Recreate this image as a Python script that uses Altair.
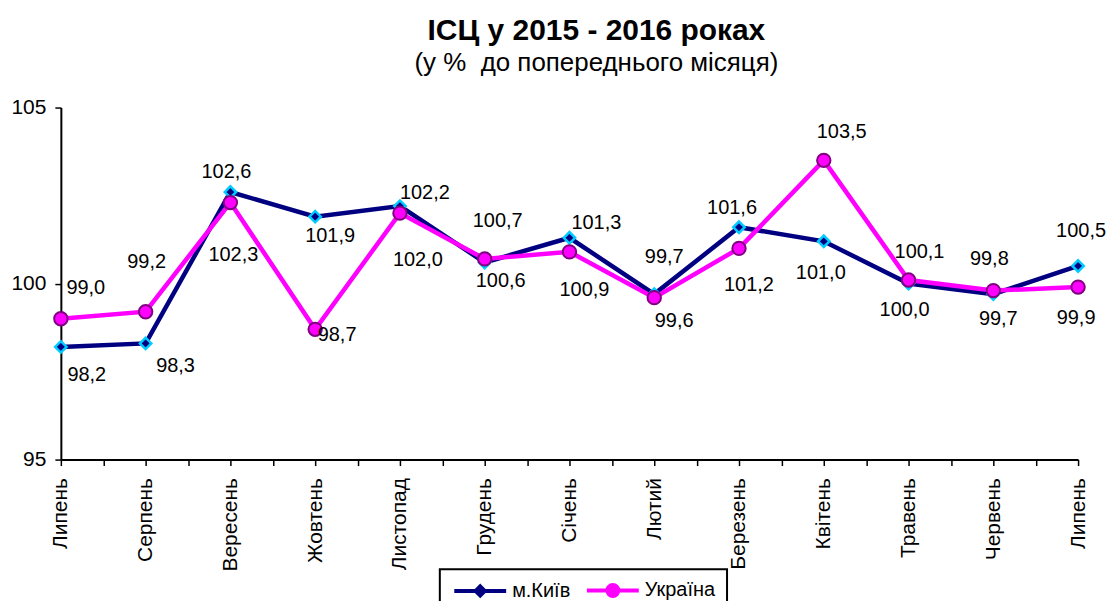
import altair as alt
import pandas as pd

months = ["Липень", "Серпень", "Вересень", "Жовтень", "Листопад", "Грудень",
          "Січень", "Лютий", "Березень", "Квітень", "Травень", "Червень", "Липень"]
kyiv = [98.2, 98.3, 102.6, 101.9, 102.2, 100.6, 101.3, 99.7, 101.6, 101.2, 100.0, 99.7, 100.5]
ukraine = [99.0, 99.2, 102.3, 98.7, 102.0, 100.7, 100.9, 99.6, 101.0, 103.5, 100.1, 99.8, 99.9]
kyiv_labels = ["98,2", "98,3", "102,6", "101,9", "102,2", "100,6", "101,3", "99,7",
               "101,6", "101,0", "100,0", "99,7", "100,5"]
ukraine_labels = ["99,0", "99,2", "102,3", "98,7", "102,0", "100,7", "100,9", "99,6",
                  "101,2", "103,5", "100,1", "99,8", "99,9"]
series_names = ["м.Київ", "Україна"]

# label nudges in pixels (style only), relative to each point
kyiv_dx = [26, 30, -4, 15, 25, 16, 27, 10, -7, -3, -4, 5, 3]
kyiv_dy = [28, 23, -20, 19, -13, 19, -15, -37, -19, 32, 27, 25, -35]
ukr_dx = [25, 1, 3, 22, 18, 13, 15, 20, 10, 18, 11, -4, -2]
ukr_dy = [-31, -50, 53, 6, 47, -38, 38, 23, 37, -28, -28, -32, 31]

W, H = 1020, 353
STEP_PX = W / 12
UNIT_PX = H / 10

rows = []
for i in range(len(months)):
    rows.append(dict(i=i, series=series_names[0], value=kyiv[i], label=kyiv_labels[i],
                     lx=i + kyiv_dx[i] / STEP_PX, ly=kyiv[i] - kyiv_dy[i] / UNIT_PX))
    rows.append(dict(i=i, series=series_names[1], value=ukraine[i], label=ukraine_labels[i],
                     lx=i + ukr_dx[i] / STEP_PX, ly=ukraine[i] - ukr_dy[i] / UNIT_PX))
df = pd.DataFrame(rows)

months_js = "[" + ",".join("'" + m + "'" for m in months) + "]"

xscale = alt.Scale(domain=[0, 12], nice=False, zero=False)
yscale = alt.Scale(domain=[95, 105], nice=False, zero=False)

xaxis = alt.Axis(
    values=[k / 2 for k in range(25)],
    labelExpr=f"datum.value % 1 == 0 ? {months_js}[datum.value] : ''",
    title=None, grid=False, labelAngle=270, labelFontSize=21, labelColor="black",
    labelPadding=12, tickSize=6, tickColor="black", tickWidth=1.5,
    domainColor="black", domainWidth=2, labelOverlap=False, labelFlush=False,
    labelBound=False,
)
yaxis = alt.Axis(
    values=[95, 100, 105], title=None, grid=False, labelFontSize=21, labelColor="black",
    labelPadding=9, tickSize=6, tickColor="black", tickWidth=1.5,
    domainColor="black", domainWidth=2,
)

base = alt.Chart(df)
X = alt.X("i:Q", scale=xscale, axis=xaxis)
Y = alt.Y("value:Q", scale=yscale, axis=yaxis)

NAVY = "#000080"
CYAN = "#00CCFF"
MAGENTA = "#FF00FF"
PURPLE = "#800080"

k = base.transform_filter(alt.datum.series == series_names[0])
u = base.transform_filter(alt.datum.series == series_names[1])

k_line = k.mark_line(color=NAVY, strokeWidth=4.5).encode(x=X, y=Y)
k_pts = k.mark_point(shape="diamond", filled=True, fill=NAVY, stroke=CYAN,
                     strokeWidth=2.5, size=130, opacity=1).encode(x=X, y=Y)
u_line = u.mark_line(color=MAGENTA, strokeWidth=4.5).encode(x=X, y=Y)
u_pts = u.mark_point(shape="circle", filled=True, fill=MAGENTA, stroke=PURPLE,
                     strokeWidth=2, size=180, opacity=1).encode(x=X, y=Y)

texts = base.mark_text(fontSize=20, color="black", align="center", baseline="middle").encode(
    x=alt.X("lx:Q", scale=xscale, axis=xaxis),
    y=alt.Y("ly:Q", scale=yscale, axis=yaxis),
    text="label:N",
)

kyiv_sym = ("M-4,0H-0.75M0.75,0H4M0,-0.7L0.7,0L0,0.7L-0.7,0Z")
ukr_sym = ("M-4,0H-0.9M0.9,0H4M0.85,0A0.85,0.85 0 1,1 -0.85,0A0.85,0.85 0 1,1 0.85,0Z")

legend_layer = base.transform_filter("false").mark_point(filled=True, size=169, opacity=1).encode(
    color=alt.Color("series:N", scale=alt.Scale(domain=series_names, range=[NAVY, MAGENTA]),
                    title=None),
    stroke=alt.Stroke("series:N", scale=alt.Scale(domain=series_names, range=[NAVY, MAGENTA]),
                      title=None),
    shape=alt.Shape("series:N", scale=alt.Scale(domain=series_names, range=[kyiv_sym, ukr_sym]),
                    title=None),
)

chart = alt.layer(k_line, k_pts, u_line, u_pts, texts, legend_layer).properties(
    width=W, height=H,
    autosize=alt.AutoSizeParams(type="none"),
    padding={"left": 53, "top": 99, "right": 30, "bottom": 141},
    title=alt.Title(
        "ІСЦ у 2015 - 2016 роках",
        subtitle="(у %\u00a0 до попереднього місяця)",
        fontSize=30, fontWeight="bold", color="black",
        subtitleFontSize=26, subtitleColor="black", subtitlePadding=4,
        anchor="middle", dx=27, offset=21,
    ),
).configure(
    font="Liberation Sans",
).configure_view(
    stroke=None,
).configure_legend(
    orient="none", legendX=380, legendY=463, direction="horizontal",
    strokeColor="black", strokeWidth=2, fillColor="white", padding=11,
    labelFontSize=20, labelColor="black", labelFont="Liberation Sans",
    symbolSize=169, symbolStrokeWidth=4, symbolOffset=19.5, labelOffset=22,
    columnPadding=8, symbolOpacity=1,
)

chart.save("out.html", embed_options={"renderer": "svg", "actions": False})
